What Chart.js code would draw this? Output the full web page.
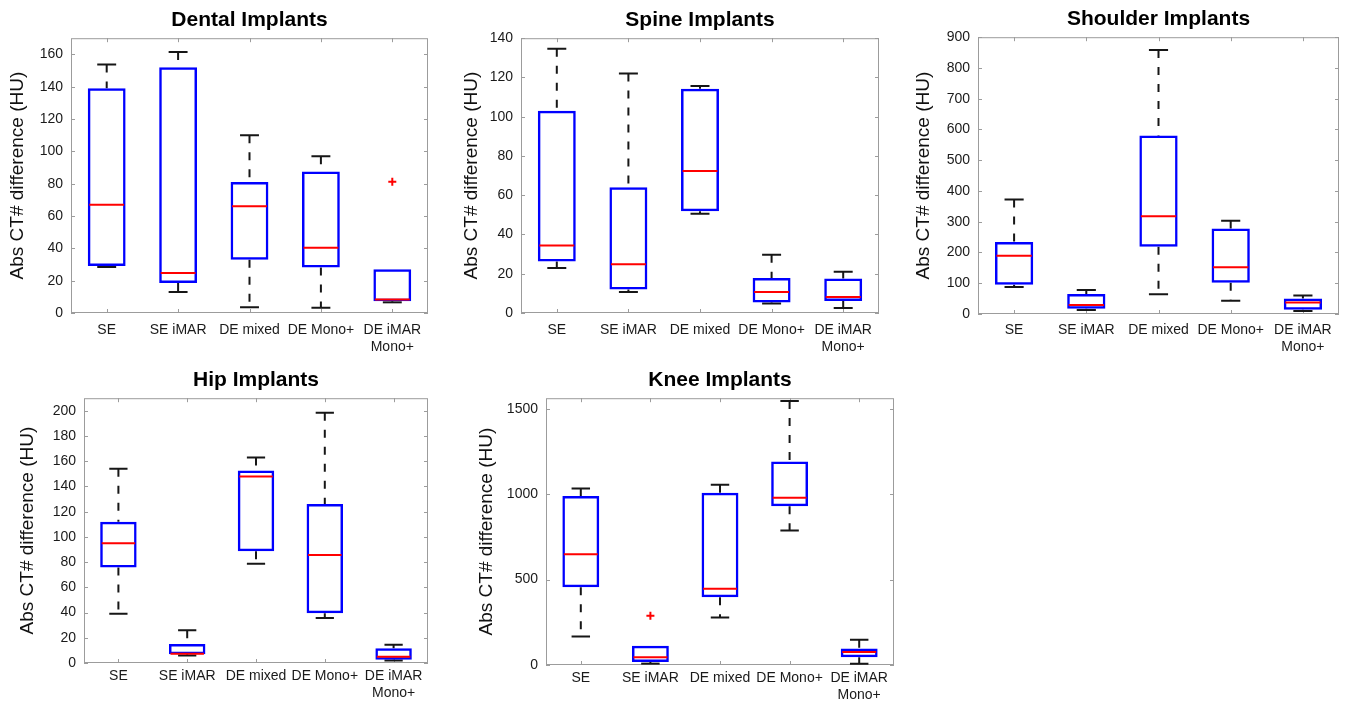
<!DOCTYPE html>
<html>
<head>
<meta charset="utf-8">
<script src="https://cdn.jsdelivr.net/npm/chart.js@4.4.1/dist/chart.umd.min.js"></script>
<style>
  body { margin: 0; background: #fff; width: 1352px; height: 702px; position: relative; overflow: hidden; }
  canvas { position: absolute; }
</style>
</head>
<body>
<canvas id="dental"></canvas>
<canvas id="spine"></canvas>
<canvas id="shoulder"></canvas>
<canvas id="hip"></canvas>
<canvas id="knee"></canvas>
<script>
const FONT = "'Liberation Sans', Arial, Helvetica, sans-serif";
const categories = ['SE', 'SE iMAR', 'DE mixed', 'DE Mono+', ['DE iMAR', 'Mono+']];
const yTitle = 'Abs CT# difference (HU)';

// Dental
const dentalTicks = [0, 20, 40, 60, 80, 100, 120, 140, 160];
const dentalLow = [28.4, 13, 3.5, 3.3, 6.6];
const dentalQ1 = [29, 18.5, 33, 28.2, 7.2];
const dentalMedian = [67, 24.7, 66, 40.3, 8.4];
const dentalQ3 = [139, 152, 81, 87.6, 27];
const dentalHigh = [153.8, 161.4, 110, 97, 27];
const dentalOutliers = [null, null, null, null, 81.2];

// Spine
const spineTicks = [0, 20, 40, 60, 80, 100, 120, 140];
const spineLow = [22.9, 10.7, 50.6, 4.8, 2.5];
const spineQ1 = [26.3, 12, 51.8, 5.4, 6.1];
const spineMedian = [34.4, 24.8, 72.3, 10.7, 8.1];
const spineQ3 = [103, 64.1, 114.2, 17.8, 17.6];
const spineHigh = [134.6, 122, 115.7, 29.7, 21];

// Shoulder
const shoulderTicks = [0, 100, 200, 300, 400, 500, 600, 700, 800, 900];
const shoulderLow = [88, 13, 64, 43, 10];
const shoulderQ1 = [95.5, 17, 219, 102, 14];
const shoulderMedian = [189, 29, 318, 152, 37];
const shoulderQ3 = [234.5, 65, 580, 278, 50];
const shoulderHigh = [372, 78, 858, 303, 60];

// Hip
const hipTicks = [0, 20, 40, 60, 80, 100, 120, 140, 160, 180, 200];
const hipLow = [39, 6, 78.8, 35.7, 1.9];
const hipQ1 = [75.7, 6.9, 88.6, 39.4, 2.6];
const hipMedian = [95, 7.4, 147.9, 85.7, 5];
const hipQ3 = [112, 15, 152.6, 126, 11.6];
const hipHigh = [154, 26, 163, 198.4, 14.5];

// Knee
const kneeTicks = [0, 500, 1000, 1500];
const kneeLow = [167, 8, 278, 788, 8];
const kneeQ1 = [455, 17.5, 397, 930, 45];
const kneeMedian = [648, 45, 447, 979, 76];
const kneeQ3 = [990, 113, 1008, 1191, 97];
const kneeHigh = [1033, 113, 1056, 1545, 148];
const kneeOutliers = [null, 288, null, null, null];

// frame, inward ticks, whiskers and medians
const boxPlotPlugin = {
  id: 'boxPlot',
  beforeDatasetsDraw(chart, args, opts) {
    const { ctx, chartArea: a, scales: { x, y } } = chart;
    ctx.save();
    ctx.strokeStyle = '#9c9c9c';
    ctx.lineWidth = 1;
    ctx.strokeRect(a.left + 0.5, a.top + 0.5, a.width - 1, a.height - 1);
    ctx.beginPath();
    y.ticks.forEach((t) => {
      const py = Math.round(y.getPixelForValue(t.value)) + 0.5;
      ctx.moveTo(a.left, py); ctx.lineTo(a.left + 4, py);
      ctx.moveTo(a.right, py); ctx.lineTo(a.right - 4, py);
    });
    x.ticks.forEach((t, i) => {
      const px = Math.round(x.getPixelForValue(i)) + 0.5;
      ctx.moveTo(px, a.top); ctx.lineTo(px, a.top + 4);
      ctx.moveTo(px, a.bottom); ctx.lineTo(px, a.bottom - 4);
    });
    ctx.stroke();

    const meta = chart.getDatasetMeta(0);
    ctx.strokeStyle = '#161616';
    ctx.lineWidth = 2;
    opts.low.forEach((lo, i) => {
      const px = x.getPixelForValue(i);
      const half = meta.data[i].width / 4;
      const yLo = y.getPixelForValue(lo);
      const yHi = y.getPixelForValue(opts.high[i]);
      const yQ1 = y.getPixelForValue(opts.q1[i]);
      const yQ3 = y.getPixelForValue(opts.q3[i]);
      ctx.setLineDash([8, 9]);
      ctx.beginPath();
      ctx.moveTo(px, yHi); ctx.lineTo(px, yQ3);
      ctx.moveTo(px, yQ1); ctx.lineTo(px, yLo);
      ctx.stroke();
      ctx.setLineDash([]);
      ctx.beginPath();
      if (opts.high[i] > opts.q3[i]) {
        ctx.moveTo(px - half, yHi); ctx.lineTo(px + half, yHi);
      }
      if (lo < opts.q1[i]) {
        ctx.moveTo(px - half, yLo); ctx.lineTo(px + half, yLo);
      }
      ctx.stroke();
    });
    ctx.restore();
  },
  afterDatasetsDraw(chart, args, opts) {
    const { ctx, scales: { x, y } } = chart;
    const meta = chart.getDatasetMeta(0);
    ctx.save();
    ctx.strokeStyle = '#ff0000';
    ctx.lineWidth = 2;
    ctx.beginPath();
    opts.median.forEach((m, i) => {
      const px = x.getPixelForValue(i);
      const half = meta.data[i].width / 2 - 1.5;
      const py = y.getPixelForValue(m);
      ctx.moveTo(px - half, py); ctx.lineTo(px + half, py);
    });
    ctx.stroke();
    ctx.restore();
  }
};

function createBoxChart(id, geo, title, yMax, yTicks, low, q1, median, q3, high, outliers) {
  const canvas = document.getElementById(id);
  canvas.width = geo.width;
  canvas.height = geo.height;
  canvas.style.left = geo.left + 'px';
  canvas.style.top = geo.top + 'px';

  const datasets = [{
    type: 'bar',
    data: q1.map((v, i) => [v, q3[i]]),
    backgroundColor: 'rgba(0,0,0,0)',
    borderColor: '#0000ff',
    borderWidth: 2.5,
    borderSkipped: false,
    barPercentage: 0.53,
    categoryPercentage: 1,
    order: 2,
  }];
  if (outliers) {
    datasets.push({
      type: 'line',
      data: outliers,
      showLine: false,
      pointStyle: 'cross',
      pointRadius: 4,
      pointBorderWidth: 2,
      pointBorderColor: '#ff0000',
      order: 1,
    });
  }

  new Chart(canvas, {
    type: 'bar',
    data: { labels: categories, datasets: datasets },
    options: {
      responsive: false,
      animation: false,
      events: [],
      layout: { padding: { left: 0, right: geo.rightPad, top: 0, bottom: 0 } },
      plugins: {
        legend: { display: false },
        tooltip: { enabled: false },
        title: {
          display: true,
          text: title,
          fullSize: false,
          color: '#000',
          font: { family: FONT, size: 21, weight: 'bold', lineHeight: 1.2 },
          padding: { top: 8, bottom: 5 },
        },
        boxPlot: { low, q1, median, q3, high },
      },
      scales: {
        x: {
          offset: true,
          grid: { display: false, drawTicks: false },
          border: { display: false },
          ticks: {
            color: '#1a1a1a',
            font: { family: FONT, size: 14 },
            padding: geo.labelPad,
            maxRotation: 0,
            autoSkip: false,
          },
          afterFit: (s) => { s.height = 50; },
        },
        y: {
          bounds: 'data',
          min: 0,
          max: yMax,
          grid: { display: false, drawTicks: false },
          border: { display: false },
          ticks: {
            color: '#1a1a1a',
            font: { family: FONT, size: 14 },
            padding: 8,
            callback: (v) => String(v),
          },
          afterBuildTicks: (s) => { s.ticks = yTicks.map((v) => ({ value: v })); },
          title: {
            display: true,
            text: yTitle,
            color: '#111',
            font: { family: FONT, size: 19 },
            padding: { top: 2, bottom: 0 },
          },
          afterFit: (s) => { s.width = geo.axisW; },
        },
      },
    },
    plugins: [boxPlotPlugin],
  });
}

createBoxChart('dental', { left: 4, top: 0, width: 444, height: 363, axisW: 67, rightPad: 20, labelPad: 9 },
  'Dental Implants', 170, dentalTicks, dentalLow, dentalQ1, dentalMedian, dentalQ3, dentalHigh, dentalOutliers);
createBoxChart('spine', { left: 458, top: 0, width: 441, height: 363, axisW: 63, rightPad: 20, labelPad: 9 },
  'Spine Implants', 140, spineTicks, spineLow, spineQ1, spineMedian, spineQ3, spineHigh, null);
createBoxChart('shoulder', { left: 910, top: -1, width: 442, height: 365, axisW: 68, rightPad: 13, labelPad: 8 },
  'Shoulder Implants', 900, shoulderTicks, shoulderLow, shoulderQ1, shoulderMedian, shoulderQ3, shoulderHigh, null);
createBoxChart('hip', { left: 14, top: 360, width: 434, height: 353, axisW: 70, rightPad: 20, labelPad: 5 },
  'Hip Implants', 210, hipTicks, hipLow, hipQ1, hipMedian, hipQ3, hipHigh, null);
createBoxChart('knee', { left: 473, top: 360, width: 441, height: 355, axisW: 73, rightPad: 20, labelPad: 5 },
  'Knee Implants', 1562, kneeTicks, kneeLow, kneeQ1, kneeMedian, kneeQ3, kneeHigh, kneeOutliers);
</script>
</body>
</html>
